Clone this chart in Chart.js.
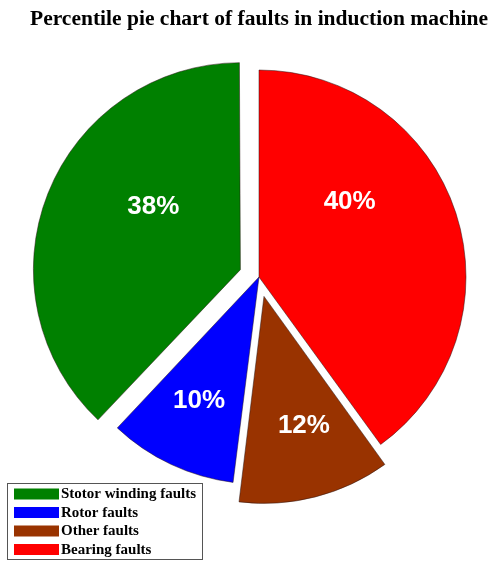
<!DOCTYPE html>
<html>
<head>
<meta charset="utf-8">
<script src="https://cdn.jsdelivr.net/npm/chart.js@4.4.1/dist/chart.umd.min.js"></script>
<style>
  html, body { margin: 0; padding: 0; background: #fff; }
  #wrap { position: relative; width: 488px; height: 562px; }
</style>
</head>
<body>
<div id="wrap"><canvas id="pie"></canvas></div>
<script>
// Fault categories, in legend order
const categories = ['Stotor winding faults', 'Rotor faults', 'Other faults', 'Bearing faults'];
// Share of each fault type (%)
const shares = [38, 10, 12, 40];
// Fill colour of each category
const colors = ['#008000', '#0000ff', '#993300', '#ff0000'];
// Pulled-out slices (same order as categories)
const exploded = [true, false, true, false];

// The pie runs counter-clockwise from 12 o'clock; Chart.js goes clockwise,
// so feed the slices in reverse order.
const order = categories.map((_, i) => categories.length - 1 - i);
const EXPLODE = 80;

// Chart.js grows the radius of offset arcs a little; undo that so every
// slice keeps the same radius.
const equalRadius = {
  id: 'equalRadius',
  afterDatasetsUpdate(chart) {
    const meta = chart.getDatasetMeta(0);
    meta.data.forEach((arc) => {
      const o = (arc.options.offset || 0) / 4;
      const fix = 1 - Math.sin(Math.min(Math.PI, arc.circumference || 0));
      arc.outerRadius -= o * fix;
    });
  }
};

// White percentage labels inside the slices
const sliceLabels = {
  id: 'sliceLabels',
  afterDatasetsDraw(chart, args, opts) {
    const ctx = chart.ctx;
    const meta = chart.getDatasetMeta(0);
    const data = chart.data.datasets[0].data;
    ctx.save();
    ctx.fillStyle = '#fff';
    ctx.font = opts.font;
    ctx.textAlign = 'center';
    ctx.textBaseline = 'middle';
    meta.data.forEach((arc, i) => {
      const p = opts.place[i];
      const half = (arc.startAngle + arc.endAngle) / 2;
      const o = (arc.options.offset || 0) / 4;
      const cx = arc.x + Math.cos(half) * o;
      const cy = arc.y + Math.sin(half) * o;
      const a = half + p.turn * Math.PI / 180;
      const r = arc.outerRadius * p.r;
      ctx.fillText(data[i] + '%', cx + Math.cos(a) * r, cy + Math.sin(a) * r);
    });
    ctx.restore();
  }
};

// Boxed legend in the lower-left corner
const boxLegend = {
  id: 'boxLegend',
  afterDraw(chart, args, opts) {
    const ctx = chart.ctx;
    ctx.save();
    ctx.fillStyle = '#fff';
    ctx.fillRect(opts.x, opts.y, opts.w, opts.h);
    ctx.strokeStyle = '#555';
    ctx.lineWidth = 1;
    ctx.strokeRect(opts.x + 0.5, opts.y + 0.5, opts.w, opts.h);
    ctx.font = opts.font;
    ctx.textBaseline = 'middle';
    ctx.textAlign = 'left';
    categories.forEach((name, i) => {
      const yc = opts.y + opts.first + i * opts.step;
      ctx.fillStyle = colors[i];
      ctx.fillRect(opts.x + 7, yc - 5.5, 45, 11);
      ctx.fillStyle = '#000';
      ctx.fillText(name, opts.x + 54, yc + 0.5);
    });
    ctx.restore();
  }
};

new Chart(document.getElementById('pie'), {
  type: 'pie',
  data: {
    labels: order.map(i => categories[i]),
    datasets: [{
      data: order.map(i => shares[i]),
      backgroundColor: order.map(i => colors[i]),
      offset: order.map(i => exploded[i] ? EXPLODE : 0),
      borderColor: 'rgba(40,20,20,0.5)',
      borderWidth: 1,
      hoverOffset: 0
    }]
  },
  options: {
    responsive: true,
    maintainAspectRatio: false,
    animation: false,
    radius: 207,
    layout: { padding: { left: 30, right: 0, top: 0, bottom: 52 } },
    plugins: {
      legend: { display: false },
      tooltip: { enabled: false },
      title: {
        display: true,
        text: 'Percentile pie chart of faults in induction machine',
        color: '#000',
        font: { family: '"Liberation Serif", "Times New Roman", serif', size: 21.7, weight: 'bold' },
        padding: { top: 6.5, bottom: 11.5 }
      },
      sliceLabels: {
        font: 'bold 26px "Liberation Sans", Arial, sans-serif',
        place: [
          { turn: -21.8, r: 0.57 },   // Bearing
          { turn: -2.7, r: 0.677 },   // Other
          { turn: 0.6, r: 0.665 },    // Rotor
          { turn: 14.2, r: 0.535 }    // Stator
        ]
      },
      boxLegend: {
        x: 7, y: 483, w: 195, h: 76, first: 11, step: 18.5,
        font: 'bold 15px "Liberation Serif", "Times New Roman", serif'
      }
    }
  },
  plugins: [equalRadius, sliceLabels, boxLegend]
});
</script>
</body>
</html>
